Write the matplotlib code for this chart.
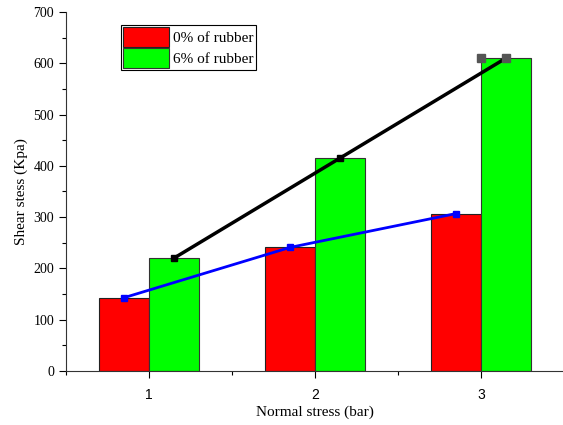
import numpy as np
import matplotlib.pyplot as plt
from matplotlib.ticker import MultipleLocator

normal = [1, 2, 3]
rubber0 = [143, 241, 307]
rubber6 = [220, 415, 610]
labels = ['0% of rubber', '6% of rubber']

w = 0.3
x = np.array(normal, dtype=float)

fig = plt.figure(figsize=(5.63, 4.25), dpi=100)
ax = fig.add_axes([66/563, 54/425, 498/563, 359/425])

ax.bar(x - w/2, rubber0, w, color='#ff0000', edgecolor='#222222', linewidth=0.8, label=labels[0], zorder=2)
ax.bar(x + w/2, rubber6, w, color='#00ff00', edgecolor='#333333', linewidth=0.8, label=labels[1], zorder=2)

# trend lines through bar tops
ax.plot(x - w/2, rubber0, color='#0000ff', lw=2, marker='s', ms=5, zorder=3)
ax.plot(x + w/2, rubber6, color='black', lw=2.5, marker='s', ms=5, zorder=3)
ax.plot([x[2], x[2] + w/2], [rubber6[2], rubber6[2]], ls='none', marker='s', ms=6,
        color='#555555', zorder=4)

ax.set_xlim(0.5, 3.5)
ax.set_ylim(0, 700)
ax.set_xticks(normal)
ax.xaxis.set_minor_locator(MultipleLocator(0.5))
ax.yaxis.set_major_locator(MultipleLocator(100))
ax.yaxis.set_minor_locator(MultipleLocator(50))
ax.tick_params(which='major', direction='out', length=5, width=0.8)
ax.tick_params(which='minor', direction='out', length=3, width=0.8)
ax.tick_params(axis='x', which='major', pad=7)
for lab in ax.get_xticklabels():
    lab.set_fontfamily('Liberation Sans')
    lab.set_fontsize(10)
for lab in ax.get_yticklabels():
    lab.set_fontfamily('Liberation Serif')
    lab.set_fontsize(10)

ax.spines['top'].set_visible(False)
ax.spines['right'].set_visible(False)
ax.spines['left'].set_color('#333333')
ax.spines['bottom'].set_color('#333333')

ax.set_xlabel('Normal stress (bar)', family='Liberation Serif', fontsize=11, labelpad=3)
ax.set_ylabel('Shear stess (Kpa)', family='Liberation Serif', fontsize=11, labelpad=4)

leg = ax.legend(loc='upper left', bbox_to_anchor=(0.110, 0.964), prop={'family': 'Liberation Serif', 'size': 11},
                fancybox=False, edgecolor='black', framealpha=1, handlelength=3.0, handleheight=1.6,
                handletextpad=0.3, borderpad=0.15, labelspacing=0.1, borderaxespad=0)
leg.get_frame().set_linewidth(0.8)

fig.savefig('out.png', dpi=100)
